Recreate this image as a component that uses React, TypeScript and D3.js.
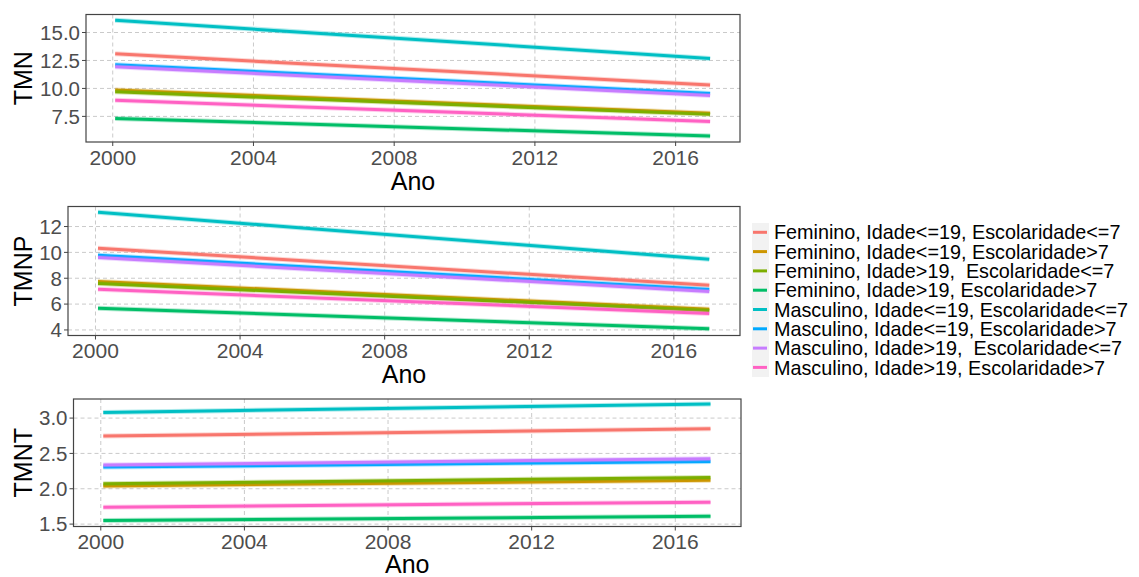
import React from "react";
import * as d3 from "d3";

const groups = [
  "Feminino, Idade<=19, Escolaridade<=7",
  "Feminino, Idade<=19, Escolaridade>7",
  "Feminino, Idade>19,  Escolaridade<=7",
  "Feminino, Idade>19, Escolaridade>7",
  "Masculino, Idade<=19, Escolaridade<=7",
  "Masculino, Idade<=19, Escolaridade>7",
  "Masculino, Idade>19,  Escolaridade<=7",
  "Masculino, Idade>19, Escolaridade>7",
];
const colors = ["#F8766D", "#CD9600", "#7CAE00", "#00BE67", "#00BFC4", "#00A9FF", "#C77CFF", "#FF61C3"];

// time span of fitted trends (start, end)
const years = [2000.07, 2016.98];
const xTicks = [2000, 2004, 2008, 2012, 2016];

// TMN
const tmnStart = [13.09, 9.85, 9.7, 7.32, 16.1, 12.11, 11.93, 8.95];
const tmnEnd = [10.3, 7.77, 7.68, 5.74, 12.68, 9.55, 9.37, 7.05];
const tmnTicks = [7.5, 10.0, 12.5, 15.0];
// TMNP
const tmnpStart = [10.32, 7.75, 7.6, 5.68, 13.1, 9.78, 9.6, 7.15];
const tmnpEnd = [7.46, 5.6, 5.5, 4.1, 9.47, 7.13, 6.97, 5.27];
const tmnpTicks = [4, 6, 8, 10, 12];
// TMNT
const tmntStart = [2.745, 2.04, 2.07, 1.55, 3.08, 2.307, 2.335, 1.74];
const tmntEnd = [2.85, 2.12, 2.16, 1.61, 3.2, 2.386, 2.425, 1.81];
const tmntTicks = [1.5, 2.0, 2.5, 3.0];

const FONT = "'Liberation Sans', Arial, sans-serif";

type PanelProps = {
  box: { x0: number; x1: number; y0: number; y1: number };
  yDomain: [number, number];
  starts: number[];
  ends: number[];
  yTicks: number[];
  tickFmt: (v: number) => string;
  title: string;
  titleY: number;
};

function Panel({ box, yDomain, starts, ends, yTicks, tickFmt, title, titleY }: PanelProps) {
  const x = d3.scaleLinear().domain([1999.24, 2017.83]).range([box.x0, box.x1]);
  const y = d3.scaleLinear().domain(yDomain).range([box.y1, box.y0]);
  const line = d3
    .line<[number, number]>()
    .x((d) => x(d[0]))
    .y((d) => y(d[1]));
  const cy = (box.y0 + box.y1) / 2;
  const cx = (box.x0 + box.x1) / 2;
  return (
    <g>
      <rect x={box.x0} y={box.y0} width={box.x1 - box.x0} height={box.y1 - box.y0} fill="#fff" />
      {xTicks.map((t) => (
        <line key={"gx" + t} x1={x(t)} x2={x(t)} y1={box.y0} y2={box.y1} stroke="#CACACA" strokeWidth={1} strokeDasharray="4,3" />
      ))}
      {yTicks.map((t) => (
        <line key={"gy" + t} x1={box.x0} x2={box.x1} y1={y(t)} y2={y(t)} stroke="#CACACA" strokeWidth={1} strokeDasharray="4,3" />
      ))}
      {groups.map((g, i) => {
        const pts: [number, number][] = [
          [years[0], starts[i]],
          [years[1], ends[i]],
        ];
        return (
          <g key={g}>
            <path d={line(pts) || ""} stroke={colors[i]} strokeWidth={5} strokeOpacity={0.3} fill="none" />
            <path d={line(pts) || ""} stroke={colors[i]} strokeWidth={3} fill="none" />
          </g>
        );
      })}
      <rect x={box.x0} y={box.y0} width={box.x1 - box.x0} height={box.y1 - box.y0} fill="none" stroke="#444" strokeWidth={1.2} />
      {yTicks.map((t) => (
        <g key={"ty" + t}>
          <line x1={box.x0 - 4} x2={box.x0} y1={y(t)} y2={y(t)} stroke="#444" strokeWidth={1} />
          <text x={box.x0 - 6} y={y(t)} dy="0.36em" textAnchor="end" fontSize={20.5} fill="#4D4D4D" fontFamily={FONT}>
            {tickFmt(t)}
          </text>
        </g>
      ))}
      {xTicks.map((t) => (
        <g key={"tx" + t}>
          <line x1={x(t)} x2={x(t)} y1={box.y1} y2={box.y1 + 4} stroke="#444" strokeWidth={1} />
          <text x={x(t)} y={box.y1 + 22.5} textAnchor="middle" fontSize={21} fill="#4D4D4D" fontFamily={FONT}>
            {t}
          </text>
        </g>
      ))}
      <text x={cx} y={titleY} textAnchor="middle" fontSize={25} fill="#000" fontFamily={FONT}>
        Ano
      </text>
      <text transform={`translate(31.5,${cy}) rotate(-90)`} textAnchor="middle" fontSize={25} fill="#000" fontFamily={FONT}>
        {title}
      </text>
    </g>
  );
}

export default function App() {
  const legendY0 = 232.3;
  const legendStep = 19.3;
  return (
    <svg width={1139} height={577} style={{ position: "absolute", left: 0, top: 0, background: "#fff" }}>
      <rect x={0} y={0} width={1139} height={577} fill="#fff" />
      <Panel
        box={{ x0: 86, x1: 740, y0: 14.5, y1: 142 }}
        yDomain={[5.21, 16.61]}
        starts={tmnStart}
        ends={tmnEnd}
        yTicks={tmnTicks}
        tickFmt={(v) => v.toFixed(1)}
        title="TMN"
        titleY={190}
      />
      <Panel
        box={{ x0: 68, x1: 740, y0: 206.5, y1: 335.5 }}
        yDomain={[3.57, 13.55]}
        starts={tmnpStart}
        ends={tmnpEnd}
        yTicks={tmnpTicks}
        tickFmt={(v) => String(v)}
        title="TMNP"
        titleY={383}
      />
      <Panel
        box={{ x0: 73.5, x1: 741, y0: 399, y1: 526.5 }}
        yDomain={[1.466, 3.27]}
        starts={tmntStart}
        ends={tmntEnd}
        yTicks={tmntTicks}
        tickFmt={(v) => v.toFixed(1)}
        title="TMNT"
        titleY={573}
      />
      <g>
        <rect x={752} y={223} width={17} height={154} fill="#F2F2F2" />
        {groups.map((g, i) => {
          const yy = legendY0 + i * legendStep;
          return (
            <g key={g}>
              <line x1={753} x2={767} y1={yy} y2={yy} stroke={colors[i]} strokeWidth={3} />
              <text x={774} y={yy} dy="0.36em" fontSize={19.8} fill="#000" fontFamily={FONT} style={{ whiteSpace: "pre" }}>
                {g}
              </text>
            </g>
          );
        })}
      </g>
    </svg>
  );
}
